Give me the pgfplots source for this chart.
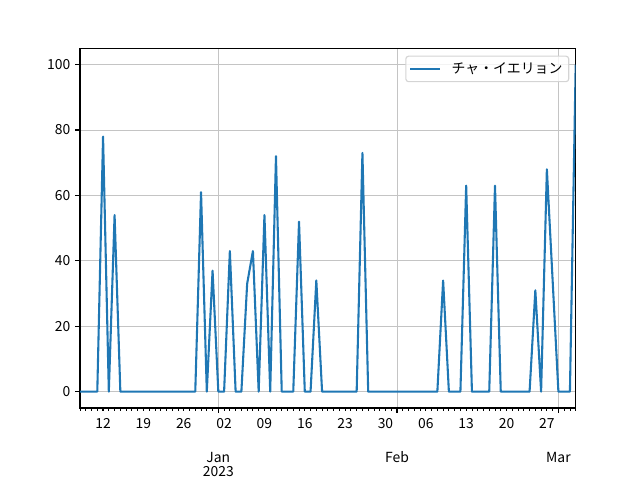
\documentclass[border=0pt]{standalone}
\usepackage{pgfplots}
\pgfplotsset{compat=1.18}
\usepackage{fontspec}
\setmainfont{Noto Sans CJK JP}
\definecolor{mplblue}{HTML}{1F77B4}
\definecolor{gridgray}{HTML}{C4C4C4}
\definecolor{legendedge}{HTML}{D4D4D4}
\begin{document}
\begin{tikzpicture}
\path[use as bounding box] (0pt,0pt) rectangle (460.8pt,345.6pt);
\begin{axis}[
  at={(57.6pt,51.84pt)}, anchor=south west,
  scale only axis, width=356.9pt, height=259.0pt,
  xmin=0, xmax=86, ymin=-5, ymax=105,
  ytick={0,20,40,60,80,100},
  xtick={24,55,83},
  xticklabels={{\phantom{0}\\[12.7pt]Jan\\2023},{\phantom{0}\\[12.7pt]Feb},{\phantom{0}\\[12.7pt]Mar}},
  xticklabel style={align=center, font=\fontsize{10}{10.3}\selectfont},
  xticklabel shift=2pt,
  yticklabel style={font=\fontsize{10}{12}\selectfont},
  minor xtick={0,1,...,86},
  extra x ticks={4,11,18,25,32,39,46,53,60,67,74,81},
  extra x tick labels={12,19,26,02,09,16,23,30,06,13,20,27},
  extra x tick style={grid=none, major tick length=2pt},
  xmajorgrids, ymajorgrids,
  grid style={gridgray, line width=0.7pt},
  tick align=outside, tick pos=left,
  major tick length=3.5pt, minor tick length=2pt,
  every tick/.style={black, line width=0.8pt},
  minor tick style={black, line width=0.6pt},
  axis line style={line width=0.8pt},
  /pgf/number format/assume math mode=true,
  legend style={at={(1,1)}, anchor=north east, xshift=-4.6pt, yshift=-5.3pt,
    draw=legendedge, rounded corners=2pt, fill=white, fill opacity=0.8, text opacity=1,
    font=\fontsize{10}{12}\selectfont, inner xsep=2.5pt, inner ysep=2.5pt, line width=0.8pt,
    nodes={inner sep=2pt}},
  legend cell align=left,
  legend image code/.code={\draw[#1, line width=1.5pt] (0pt,0pt) -- (21pt,0pt); \path (27pt,0pt);},
]
\addplot[mplblue, line width=1.5pt, line join=round] coordinates {
(0,0) (1,0) (2,0) (3,0) (4,78) (5,0) (6,54) (7,0) (8,0) (9,0)
(10,0) (11,0) (12,0) (13,0) (14,0) (15,0) (16,0) (17,0) (18,0) (19,0)
(20,0) (21,61) (22,0) (23,37) (24,0) (25,0) (26,43) (27,0) (28,0) (29,33)
(30,43) (31,0) (32,54) (33,0) (34,72) (35,0) (36,0) (37,0) (38,52) (39,0)
(40,0) (41,34) (42,0) (43,0) (44,0) (45,0) (46,0) (47,0) (48,0) (49,73)
(50,0) (51,0) (52,0) (53,0) (54,0) (55,0) (56,0) (57,0) (58,0) (59,0)
(60,0) (61,0) (62,0) (63,34) (64,0) (65,0) (66,0) (67,63) (68,0) (69,0)
(70,0) (71,0) (72,63) (73,0) (74,0) (75,0) (76,0) (77,0) (78,0) (79,31)
(80,0) (81,68) (82,34) (83,0) (84,0) (85,0) (86,100)
};
\addlegendentry{チャ・イエリョン}
\end{axis}
\end{tikzpicture}
\end{document}
